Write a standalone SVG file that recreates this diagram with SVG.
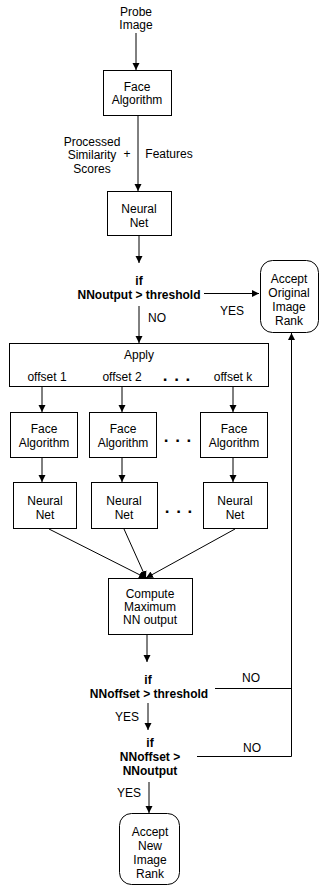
<svg xmlns="http://www.w3.org/2000/svg" width="320" height="886" viewBox="0 0 320 886">
<style>
text{font-family:"Liberation Sans",Arial,sans-serif;font-size:12px;fill:#000;text-anchor:middle}
.b{font-weight:bold}
.box{fill:#fff;stroke:#000;stroke-width:1}
.ln{fill:none;stroke:#000;stroke-width:1}
.dots{font-weight:bold;font-size:17px;letter-spacing:1px}
</style>
<defs>
<marker id="ah" viewBox="0 0 10 10" refX="10" refY="5" markerWidth="7" markerHeight="10" markerUnits="userSpaceOnUse" orient="auto">
<path d="M0,0 L10,5 L0,10 z" fill="#000"/>
</marker>
</defs>
<rect width="320" height="886" fill="#fff"/>
<g id="probe"><text x="136" y="16">Probe</text><text x="136" y="29">Image</text></g>
<g id="face0"><rect class="box" x="103.5" y="70.5" width="68" height="45"/><text x="137" y="91">Face</text><text x="137" y="104">Algorithm</text></g>
<g id="lbl-feat"><text x="92" y="146">Processed</text><text x="92" y="159">Similarity</text><text x="92" y="173">Scores</text><text x="127" y="158">+</text><text x="169" y="158">Features</text></g>
<g id="nn0"><rect class="box" x="107.5" y="191.5" width="64" height="44"/><text x="139" y="213">Neural</text><text x="139" y="227">Net</text></g>
<g id="dec1"><text class="b" x="139" y="285">if</text><text class="b" x="139" y="299">NNoutput &gt; threshold</text></g>
<g id="acceptOrig"><rect class="box" x="260.5" y="260.5" width="58" height="72" rx="12"/><text x="289" y="283">Accept</text><text x="289" y="297">Original</text><text x="289" y="311">Image</text><text x="289" y="325">Rank</text></g>
<g id="apply"><rect class="box" x="9.5" y="343.5" width="259" height="43"/><text x="139" y="359">Apply</text><text x="47" y="381">offset 1</text><text x="122" y="381">offset 2</text><text x="233" y="381">offset k</text><text class="dots" x="177" y="381">. . .</text></g>
<g id="face1"><rect class="box" x="10.5" y="412.5" width="67" height="45"/><text x="44" y="433">Face</text><text x="44" y="447">Algorithm</text></g>
<g id="face2"><rect class="box" x="89.5" y="412.5" width="67" height="45"/><text x="123" y="433">Face</text><text x="123" y="447">Algorithm</text></g>
<g id="facek"><rect class="box" x="200.5" y="412.5" width="67" height="45"/><text x="234" y="433">Face</text><text x="234" y="447">Algorithm</text></g>
<text class="dots" x="178" y="442">. . .</text>
<g id="nn1"><rect class="box" x="13.5" y="482.5" width="63" height="46"/><text x="45" y="505">Neural</text><text x="45" y="519">Net</text></g>
<g id="nn2"><rect class="box" x="91.5" y="482.5" width="66" height="46"/><text x="124" y="505">Neural</text><text x="124" y="519">Net</text></g>
<g id="nnk"><rect class="box" x="203.5" y="482.5" width="64" height="46"/><text x="235" y="505">Neural</text><text x="235" y="519">Net</text></g>
<text class="dots" x="179" y="513">. . .</text>
<g id="compute"><rect class="box" x="108.5" y="578.5" width="84" height="56"/><text x="150" y="598">Compute</text><text x="150" y="611">Maximum</text><text x="150" y="624">NN output</text></g>
<g id="dec2"><text class="b" x="148" y="684">if</text><text class="b" x="149" y="698">NNoffset &gt; threshold</text></g>
<g id="dec3"><text class="b" x="150" y="747">if</text><text class="b" x="150" y="761">NNoffset &gt;</text><text class="b" x="150" y="775">NNoutput</text></g>
<g id="acceptNew"><rect class="box" x="119.5" y="813.5" width="60" height="71" rx="12"/><text x="150" y="836">Accept</text><text x="150" y="850">New</text><text x="150" y="864">Image</text><text x="150" y="878">Rank</text></g>
<g id="connectors">
<line class="ln" x1="136" y1="33" x2="136" y2="70" marker-end="url(#ah)"/>
<line class="ln" x1="138" y1="116" x2="138" y2="191" marker-end="url(#ah)"/>
<line class="ln" x1="139" y1="236" x2="139" y2="263" marker-end="url(#ah)"/>
<line class="ln" x1="204" y1="293.5" x2="259" y2="293.5" marker-end="url(#ah)"/>
<text x="232" y="315">YES</text>
<line class="ln" x1="139" y1="306" x2="139" y2="343" marker-end="url(#ah)"/>
<text x="157" y="322">NO</text>
<line class="ln" x1="42" y1="387" x2="42" y2="412" marker-end="url(#ah)"/>
<line class="ln" x1="122" y1="387" x2="122" y2="412" marker-end="url(#ah)"/>
<line class="ln" x1="233" y1="387" x2="233" y2="412" marker-end="url(#ah)"/>
<line class="ln" x1="42" y1="458" x2="42" y2="482" marker-end="url(#ah)"/>
<line class="ln" x1="122" y1="458" x2="122" y2="482" marker-end="url(#ah)"/>
<line class="ln" x1="233" y1="458" x2="233" y2="482" marker-end="url(#ah)"/>
<line class="ln" x1="49" y1="529" x2="146" y2="578" marker-end="url(#ah)"/>
<line class="ln" x1="124" y1="529" x2="146" y2="578" marker-end="url(#ah)"/>
<line class="ln" x1="235" y1="529" x2="146" y2="578" marker-end="url(#ah)"/>
<line class="ln" x1="147" y1="635" x2="147" y2="662" marker-end="url(#ah)"/>
<polyline class="ln" points="215,688.5 291.5,688.5"/>
<text x="251" y="682">NO</text>
<polyline class="ln" points="197,756.5 291.5,756.5 291.5,333" marker-end="url(#ah)"/>
<text x="252" y="752">NO</text>
<line class="ln" x1="148" y1="703" x2="148" y2="730" marker-end="url(#ah)"/>
<text x="127" y="721">YES</text>
<line class="ln" x1="149" y1="782" x2="149" y2="813" marker-end="url(#ah)"/>
<text x="129" y="797">YES</text>
</g>
</svg>
